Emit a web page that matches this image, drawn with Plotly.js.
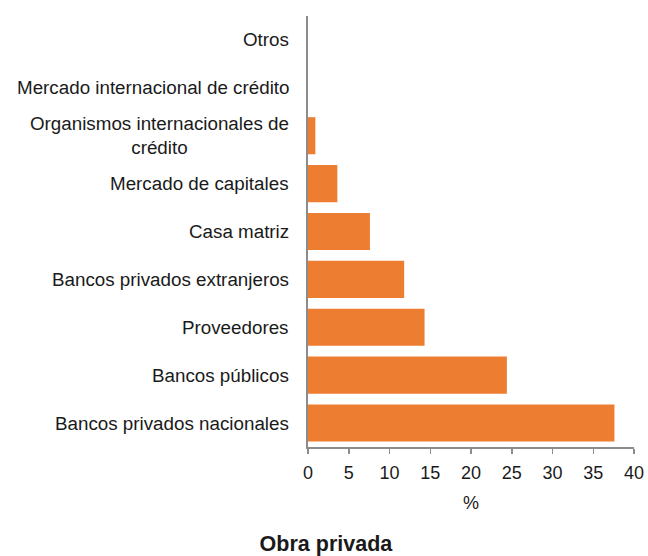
<!DOCTYPE html>
<html>
<head>
<meta charset="utf-8">
<script src="https://cdn.plot.ly/plotly-3.0.1.min.js"></script>
<style>html,body{margin:0;padding:0;background:#fff;}#chart{width:648px;height:556px;}</style>
</head>
<body>
<div id="chart"></div>
<script>
// Categories listed top to bottom
const categories = [
  "Otros",
  "Mercado internacional de crédito",
  "Organismos internacionales de<br>crédito",
  "Mercado de capitales",
  "Casa matriz",
  "Bancos privados extranjeros",
  "Proveedores",
  "Bancos públicos",
  "Bancos privados nacionales"
];
const values = [0, 0, 0.9, 3.6, 7.6, 11.8, 14.3, 24.4, 37.6];
const xTickVals = [0, 5, 10, 15, 20, 25, 30, 35, 40];
const xTitle = "%";
const chartTitle = "Obra privada";

const FONT = "Liberation Sans, Arial, Helvetica, sans-serif";
const AXIS_GREY = "#8c8c8c";

const trace = {
  type: "bar",
  orientation: "h",
  x: values,
  y: categories,
  marker: {color: "#ED7D31"},
  hoverinfo: "x+y"
};

const annotations = categories.map(c => ({
  xref: "paper", yref: "y",
  x: -0.052, y: c,
  xanchor: "right", yanchor: "middle",
  align: "center",
  text: c,
  showarrow: false,
  font: {family: FONT, size: 18.8, color: "#1a1a1a"}
}));

const layout = {
  width: 648, height: 556,
  margin: {l: 308, r: 14, t: 16, b: 109, pad: 0},
  paper_bgcolor: "#fff", plot_bgcolor: "#fff",
  showlegend: false,
  bargap: 0.225,
  font: {family: FONT, color: "#1a1a1a"},
  title: {
    text: "<b>" + chartTitle + "</b>",
    font: {family: FONT, size: 21.5, color: "#1a1a1a"},
    xref: "container", yref: "container",
    x: 0.503, y: 0.022, xanchor: "center", yanchor: "middle"
  },
  xaxis: {
    range: [0, 40],
    tickvals: xTickVals,
    ticktext: xTickVals.map(String),
    ticks: "outside", ticklen: 5, tickwidth: 1.5, tickcolor: AXIS_GREY,
    ticklabelstandoff: 3,
    showline: true, linecolor: AXIS_GREY, linewidth: 2,
    showgrid: false, zeroline: false,
    tickfont: {family: FONT, size: 18, color: "#1a1a1a"},
    title: {text: xTitle, font: {family: FONT, size: 18, color: "#1a1a1a"}, standoff: 15},
    fixedrange: true
  },
  yaxis: {
    type: "category",
    categoryorder: "array",
    categoryarray: categories,
    autorange: "reversed",
    showticklabels: false,
    ticks: "",
    showline: true, linecolor: AXIS_GREY, linewidth: 2,
    showgrid: false, zeroline: false,
    fixedrange: true
  },
  annotations: annotations
};

Plotly.newPlot("chart", [trace], layout, {displayModeBar: false, staticPlot: true});
</script>
</body>
</html>
